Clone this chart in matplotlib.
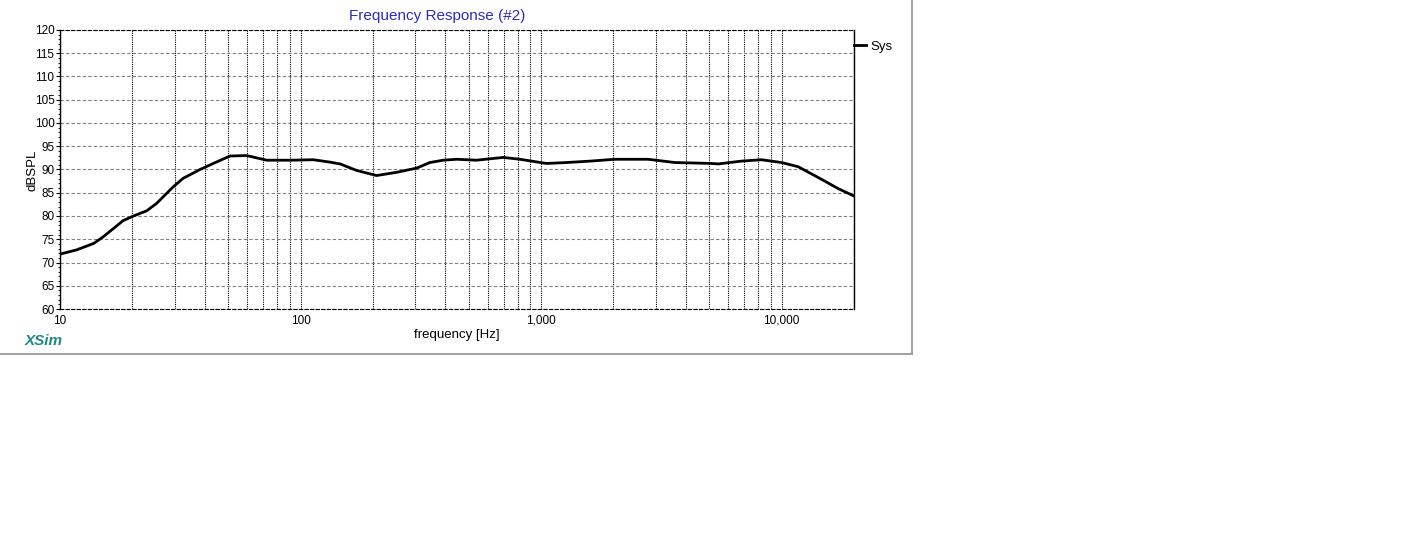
import numpy as np
import matplotlib
matplotlib.use("Agg")
import matplotlib.pyplot as plt
from matplotlib.ticker import FixedLocator, FuncFormatter, MultipleLocator, NullFormatter
from matplotlib.lines import Line2D

plt.rcParams['font.family'] = ['Liberation Sans', 'DejaVu Sans']

# resposta (Hz, dBSPL)
freq = [10, 11.7, 13.8, 15.1, 18.3, 20.2, 22.9, 25.2, 29.6, 32.5, 38.2, 43.4,
        50.9, 59.7, 72.3, 90.4, 113, 132, 146, 171, 207, 251, 304, 345, 392,
        445, 539, 696, 816, 1054, 1277, 1595, 2026, 2786, 3597, 5114, 5448,
        6808, 8245, 9990, 11715, 14180, 17180, 20000]
spl = [71.8, 72.7, 74.1, 75.5, 79.0, 80.0, 81.1, 82.7, 86.3, 88.1, 90.0, 91.3,
       92.9, 93.0, 92.0, 92.0, 92.1, 91.6, 91.2, 89.8, 88.7, 89.4, 90.3, 91.5,
       92.0, 92.2, 92.0, 92.6, 92.2, 91.3, 91.5, 91.8, 92.2, 92.2, 91.5, 91.3,
       91.2, 91.8, 92.1, 91.5, 90.6, 88.3, 85.9, 84.3]

major_x = [10, 100, 1000, 10000]
minor_x = [m * d for d in [10, 100, 1000, 10000] for m in range(2, 10) if m * d <= 20000]

W, H = 1427, 556
fig = plt.figure(figsize=(W / 100, H / 100), dpi=100)
ax = fig.add_axes([60 / W, 1 - 309 / H, (854 - 60) / W, (309 - 30) / H])

ax.plot(freq, spl, color="black", lw=2, label="Sys")
ax.set_xscale("log")
ax.set_xlim(10, 20000)
ax.set_ylim(60, 120)

ax.xaxis.set_major_locator(FixedLocator(major_x))
ax.xaxis.set_minor_locator(FixedLocator(minor_x))
ax.xaxis.set_major_formatter(FuncFormatter(lambda v, p: "{:,.0f}".format(v)))
ax.xaxis.set_minor_formatter(NullFormatter())
ax.yaxis.set_major_locator(MultipleLocator(5))
ax.yaxis.set_minor_locator(MultipleLocator(1))

ax.tick_params(axis="x", which="both", length=0, pad=4, labelsize=8.5)
ax.tick_params(axis="y", which="major", length=3, width=0.8, pad=1, labelsize=8.5)
ax.tick_params(axis="y", which="minor", length=1.5, width=0.6)

ax.grid(True, axis="y", which="major", color="#808080", lw=0.8, dashes=(3, 2))
ax.grid(True, axis="x", which="both", color="black", lw=0.8, dashes=(1, 1))

for s in ["left", "right"]:
    ax.spines[s].set_color("black")
    ax.spines[s].set_linewidth(1)
for s in ["top", "bottom"]:
    ax.spines[s].set_linestyle((0, (3, 2)))
    ax.spines[s].set_linewidth(0.8)

ax.legend(loc="upper left", bbox_to_anchor=(1.0, 0.962), frameon=False,
          borderpad=0, borderaxespad=0, handlelength=0.9, handletextpad=0.35,
          fontsize=9.5)

fig.text(437 / W, 1 - 16 / H, "Frequency Response (#2)", color="#2b2bbf",
         fontsize=11, ha="center", va="center")
fig.text(457 / W, 1 - 335 / H, "frequency [Hz]", fontsize=9.5, ha="center", va="center")
fig.text(32 / W, 1 - 170 / H, "dBSPL", fontsize=9.5, rotation=90, ha="center", va="center")
fig.text(25 / W, 1 - 341 / H, "XSim", color="#1f8a80", fontsize=11,
         fontweight="bold", fontstyle="italic", ha="left", va="center")

# moldura cinza (direita e embaixo)
fig.add_artist(Line2D([912 / W, 912 / W], [1, 1 - 354 / H], color="#a0a0a0",
                      lw=1.4, transform=fig.transFigure))
fig.add_artist(Line2D([0, 912 / W], [1 - 354 / H, 1 - 354 / H], color="#a0a0a0",
                      lw=1.4, transform=fig.transFigure))

fig.savefig("out.png", dpi=100)
